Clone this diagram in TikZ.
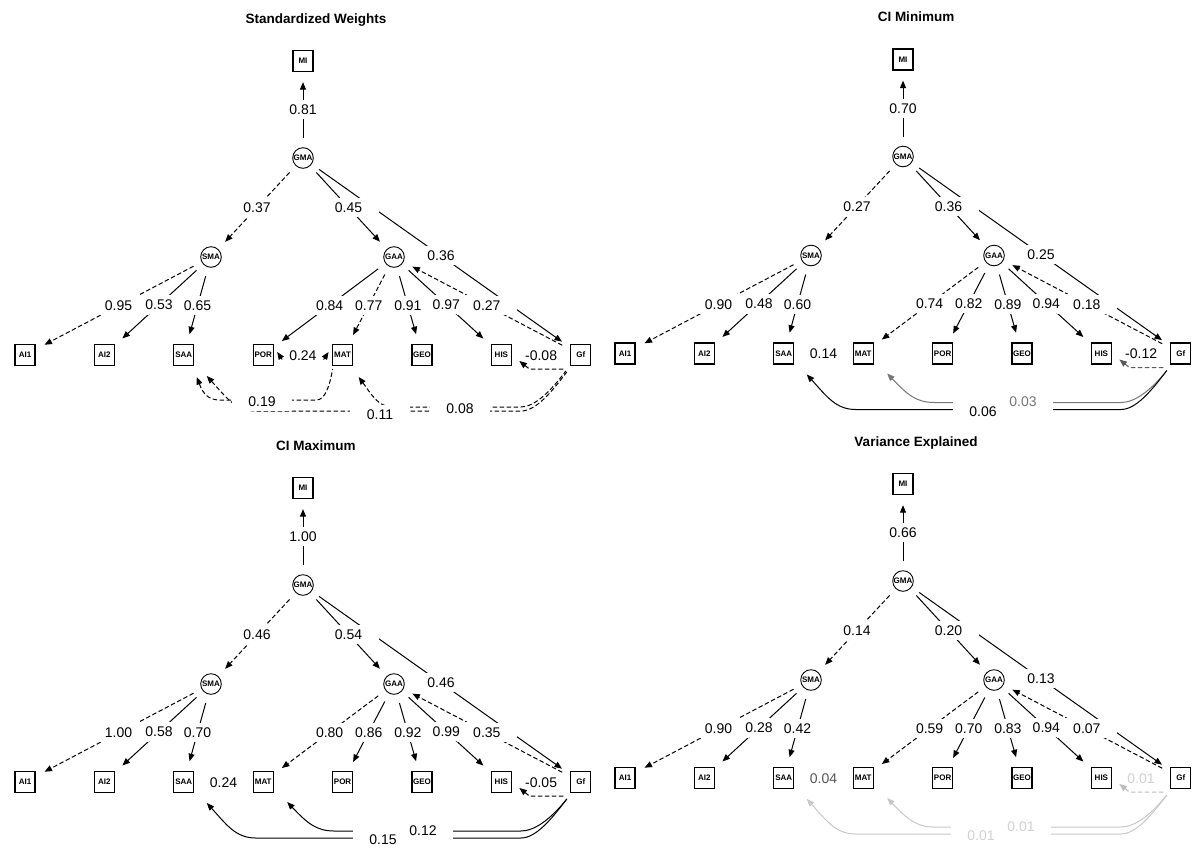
\documentclass[tikz,border=0pt]{standalone}
\usepackage{fontspec}
\setmainfont{Liberation Sans}
\usetikzlibrary{arrows.meta,calc}
\pgfdeclarelayer{edgelayer}
\pgfdeclarelayer{txtlayer}
\pgfsetlayers{edgelayer,main,txtlayer}
\definecolor{gA}{HTML}{777777}
\definecolor{gB}{HTML}{5A5A5A}
\definecolor{gC}{HTML}{C8C8C8}
\definecolor{gD}{HTML}{D2D2D2}
\definecolor{gE}{HTML}{555555}
\definecolor{gF}{HTML}{BDBDBD}
\tikzset{
  obs/.style={draw,line width=1.3pt,minimum width=20pt,minimum height=21pt,inner sep=0pt,font=\fontsize{8}{9}\selectfont\bfseries},
  lat/.style={draw,circle,line width=0.9pt,minimum size=20.6pt,inner sep=0pt,font=\fontsize{8}{9}\selectfont\bfseries},
  ttl/.style={font=\fontsize{13.5}{16}\selectfont\bfseries,inner sep=0pt},
  ed/.style={line width=1pt,shorten <=9pt,shorten >=10pt,-{Triangle[length=7.5pt,width=6pt]}},
  dsh/.style={dash pattern=on 4.5pt off 2.5pt},
  lbl/.style={fill=white,inner xsep=16.5pt,inner ysep=4.5pt,text height=10pt,text depth=0pt,font=\fontsize{14}{16}\selectfont},
  cv/.style={line width=1pt,{Triangle[length=7.5pt,width=6pt]}-},
  tipseg/.style={line width=1pt,-{Triangle[length=7.5pt,width=6pt]}},
}
\newcommand\mknodes[3]{%
  \node[obs] (#1MI) at (303,61) {MI};
  \node[lat] (#1GMA) at (303,158) {GMA};
  \node[lat] (#1SMA) at (211,257) {SMA};
  \node[lat] (#1GAA) at (394,257) {GAA};
  \node[obs] (#1AI1) at (25,355) {AI1};
  \node[obs] (#1AI2) at (104.4,355) {AI2};
  \node[obs] (#1SAA) at (183.8,355) {SAA};
  \node[obs] (#1POR) at (#2,355) {POR};
  \node[obs] (#1MAT) at (#3,355) {MAT};
  \node[obs] (#1GEO) at (422,355) {GEO};
  \node[obs] (#1HIS) at (501.4,355) {HIS};
  \node[obs] (#1Gf) at (580.8,355) {Gf};
}
% edge passes: line / white background / text
\newcommand\Eline[4]{\draw[ed,#1] (#2) -- (#3);}
\newcommand\Ebg[4]{\path (#2) -- node[lbl,text=white] (#2#3b) {#4} (#3);}
\newcommand\Etxt[4]{\path (#2) -- node[lbl,fill=none] (#2#3) {#4} (#3);}
\newcommand\Lnone[4]{}
\newcommand\Lbg[4]{\node[lbl,text=white] (#1b) at (#2) {#3};}
\newcommand\Ltxt[4]{\node[lbl,fill=none,text=#4] (#1) at (#2) {#3};}
\newcommand\topedges[6]{%
  \E{}{#1GMA}{#1Gf}{#5}
  \E{}{#1GMA}{#1MI}{#2}
  \E{dsh}{#1GMA}{#1SMA}{#3}
  \E{}{#1GMA}{#1GAA}{#4}
  \E{dsh}{#1Gf}{#1GAA}{#6}
}
\newcommand\lowedges[8]{%
  \E{dsh}{#1SMA}{#1AI1}{#2}
  \E{}{#1SMA}{#1AI2}{#3}
  \E{}{#1SMA}{#1SAA}{#4}
  \E{}{#1GAA}{#1POR}{#5}
  \E{dsh}{#1GAA}{#1MAT}{#6}
  \E{}{#1GAA}{#1GEO}{#7}
  \E{}{#1GAA}{#1HIS}{#8}
}
\newcommand\matcurve[2]{\draw[cv,#2] ($(#1MAT)+(24,20)$) .. controls ($(#1MAT)+(44,41)$) and ($(#1MAT)+(53,49)$) .. ($(#1MAT)+(71,49)$) -- ($(#1Gf)+(-60,49)$) .. controls ($(#1Gf)+(-46,49)$) and ($(#1Gf)+(-30,37)$) .. ($(#1Gf)+(-14,17)$);}
\newcommand\saacurve[2]{\draw[cv,#2] ($(#1SAA)+(23,21)$) .. controls ($(#1SAA)+(43,43)$) and ($(#1SAA)+(52,56)$) .. ($(#1SAA)+(72,56)$) -- ($(#1Gf)+(-60,56)$) .. controls ($(#1Gf)+(-45,56)$) and ($(#1Gf)+(-30,38)$) .. ($(#1Gf)+(-14,17)$);}
\newcommand\hiscurve[2]{\draw[cv,dsh,#2] ($(#1HIS)+(18,6)$) -- ($(#1HIS)+(28,14)$) -- ($(#1Gf)+(-15,14)$);}
\newcommand\alledges{%
  % panel 1
  \topedges{a}{0.81}{0.37}{0.45}{0.36}{0.27}
  \lowedges{a}{0.95}{0.53}{0.65}{0.84}{0.77}{0.91}{0.97}
  \Lb{a24}{$(aPOR)!0.5!(aMAT)$}{0.24}{black}
  \Lb{a19}{$(aGMA)+(-41,243)$}{0.19}{black}
  \Lb{a11}{$(aGMA)+(77,256)$}{0.11}{black}
  \Lb{a08}{$(aGMA)+(157,250)$}{0.08}{black}
  \Lb{a08n}{$(aHIS)!0.5!(aGf)$}{-0.08}{black}
  % panel 2
  \topedges{b}{0.70}{0.27}{0.36}{0.25}{0.18}
  \lowedges{b}{0.90}{0.48}{0.60}{0.82}{0.74}{0.89}{0.94}
  \Lb{b03}{$(bGMA)+(120,245)$}{0.03}{gA}
  \Lb{b06}{$(bGMA)+(80,254.5)$}{0.06}{black}
  \Lb{b14}{$(bSAA)!0.5!(bMAT)$}{0.14}{black}
  \Lb{b12}{$(bHIS)!0.5!(bGf)$}{-0.12}{black}
  % panel 3
  \topedges{c}{1.00}{0.46}{0.54}{0.46}{0.35}
  \lowedges{c}{1.00}{0.58}{0.70}{0.86}{0.80}{0.92}{0.99}
  \Lb{c12}{$(cGMA)+(120,245)$}{0.12}{black}
  \Lb{c15}{$(cGMA)+(80,254.5)$}{0.15}{black}
  \Lb{c24}{$(cSAA)!0.5!(cMAT)$}{0.24}{black}
  \Lb{c05}{$(cHIS)!0.5!(cGf)$}{-0.05}{black}
  % panel 4
  \topedges{d}{0.66}{0.14}{0.20}{0.13}{0.07}
  \lowedges{d}{0.90}{0.28}{0.42}{0.70}{0.59}{0.83}{0.94}
  \Lb{d01a}{$(dGMA)+(118,245)$}{0.01}{gD}
  \Lb{d01b}{$(dGMA)+(78,254.5)$}{0.01}{gD}
  \Lb{d04}{$(dSAA)!0.5!(dMAT)$}{0.04}{gE}
  \Lb{d01c}{$(dHIS)!0.5!(dGf)$}{0.01}{gD}
}
\newcommand\allcurves{%
  \draw[line width=1pt,dsh] ($(aPOR)+(14,-3)$) .. controls ($(aPOR)+(24,12)$) and ($(aMAT)+(-24,12)$) .. ($(aMAT)+(-14,-3)$);
  \draw[cv,dsh] ($(aSAA)+(13,22)$) .. controls ($(aSAA)+(19,38)$) and ($(aSAA)+(24,45)$) .. ($(aSAA)+(36,45)$) -- ($(aMAT)+(-26,45)$) .. controls ($(aMAT)+(-18,45)$) and ($(aMAT)+(-13,32)$) .. ($(aMAT)+(-10,14)$);
  \saacurve{a}{dsh}
  \draw[cv,dsh] ($(aMAT)+(16,22)$) .. controls ($(aMAT)+(28,38)$) and ($(aMAT)+(35,52)$) .. ($(aMAT)+(50,52)$) -- ($(aGf)+(-60,52)$) .. controls ($(aGf)+(-46,52)$) and ($(aGf)+(-30,36)$) .. ($(aGf)+(-15,16)$);
  \matcurve{b}{gA}
  \saacurve{b}{}
  \matcurve{c}{}
  \saacurve{c}{}
  \matcurve{d}{gC}
  \saacurve{d}{gC}
}
\newcommand\allafter{%
  \draw[tipseg,dash pattern=] ($(aPOR)+(19,4.5)$) -- ($(aPOR)+(14,-3)$);
  \draw[tipseg,dash pattern=] ($(aMAT)+(-19,4.5)$) -- ($(aMAT)+(-14,-3)$);
  \hiscurve{a}{}
  \hiscurve{b}{gB}
  \hiscurve{c}{}
  \hiscurve{d}{gF}
}
\begin{document}
\begin{tikzpicture}[x=1pt,y=-1pt]
\useasboundingbox (0,0) rectangle (1193,849);
\begin{scope}
  \mknodes{a}{263.2}{342.6}
  \node[ttl,anchor=base] (aT) at (316,23.3) {Standardized Weights};
\end{scope}
\begin{scope}[shift={(600,-1.5)}]
  \mknodes{b}{342.6}{263.2}
  \node[ttl,anchor=base] (bT) at (316,23.3) {CI Minimum};
\end{scope}
\begin{scope}[shift={(0,427)}]
  \mknodes{c}{342.6}{263.2}
  \node[ttl,anchor=base] (cT) at (316,23.3) {CI Maximum};
\end{scope}
\begin{scope}[shift={(600,423)}]
  \mknodes{d}{342.6}{263.2}
  \node[ttl,anchor=base] (dT) at (316,23.3) {Variance Explained};
\end{scope}
\begin{pgfonlayer}{edgelayer}
  \fill[white] (0,0) rectangle (1193,849);
  \let\E\Eline \let\Lb\Lnone
  \alledges
  \allcurves
  \let\E\Ebg \let\Lb\Lbg
  \alledges
  \allafter
\end{pgfonlayer}
\begin{pgfonlayer}{txtlayer}
  \let\E\Etxt \let\Lb\Ltxt
  \alledges
\end{pgfonlayer}
\end{tikzpicture}
\end{document}
